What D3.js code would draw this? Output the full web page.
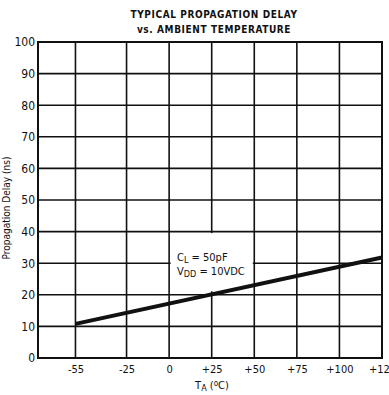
<!DOCTYPE html>
<html>
<head>
<meta charset="utf-8">
<script src="https://cdn.jsdelivr.net/npm/d3@7"></script>
<style>
  html, body { margin: 0; padding: 0; background: #fff; }
  svg { display: block; }
  text { font-family: "Liberation Sans Narrow", "DejaVu Sans Condensed", "Liberation Sans", sans-serif; fill: #111; }
</style>
</head>
<body>
<script>
// Propagation delay vs ambient temperature (CL = 50pF, VDD = 10VDC)
const tempTicks = [-55, -25, 0, 25, 50, 75, 100, 125];
const tempLabels = ["-55", "-25", "0", "+25", "+50", "+75", "+100", "+125"];
const delayTicks = [0, 10, 20, 30, 40, 50, 60, 70, 80, 90, 100];
const curveTemp = [-55, 125];
const curveDelay = [10.8, 31.8];

const W = 389, H = 395;
const svg = d3.select("body").append("svg").attr("width", W).attr("height", H);

const x = d3.scaleLinear().domain([-77, 125]).range([38, 382]);
const y = d3.scaleLinear().domain([0, 100]).range([358, 42]);

// grid
const grid = svg.append("g").attr("stroke", "#111").attr("stroke-width", 1.6);
grid.selectAll("line.v").data(tempTicks.slice(0, -1)).join("line")
  .attr("x1", d => x(d)).attr("x2", d => x(d))
  .attr("y1", y(100)).attr("y2", y(0));
grid.selectAll("line.h").data(delayTicks.slice(1, -1)).join("line")
  .attr("x1", x.range()[0]).attr("x2", x.range()[1])
  .attr("y1", d => y(d)).attr("y2", d => y(d));

// frame
svg.append("rect")
  .attr("x", x.range()[0]).attr("y", y(100))
  .attr("width", x.range()[1] - x.range()[0]).attr("height", y(0) - y(100))
  .attr("fill", "none").attr("stroke", "#111").attr("stroke-width", 2);

// cleared area behind the condition note
svg.append("rect")
  .attr("x", x(0) + 1.5).attr("y", y(40) + 1.5)
  .attr("width", x(50) - x(0) - 3).attr("height", y(20) - y(40) - 5)
  .attr("fill", "#fff");

// delay curve
const pts = curveTemp.map((t, i) => [t, curveDelay[i]]);
svg.append("path")
  .attr("d", d3.line().x(d => x(d[0])).y(d => y(d[1]))(pts))
  .attr("fill", "none").attr("stroke", "#111").attr("stroke-width", 4);

// axes
const yAxis = svg.append("g").attr("transform", `translate(${x.range()[0]},0)`)
  .call(d3.axisLeft(y).tickValues(delayTicks).tickSize(0).tickPadding(3));
yAxis.select(".domain").remove();
yAxis.selectAll("text").attr("font-size", 12).attr("fill", "#111")
  .style("font-family", '"Liberation Sans Narrow", "DejaVu Sans Condensed", sans-serif');

const xAxis = svg.append("g").attr("transform", `translate(0,${y(0)})`)
  .call(d3.axisBottom(x).tickValues(tempTicks).tickFormat((d, i) => tempLabels[i]).tickSize(0).tickPadding(7));
xAxis.select(".domain").remove();
xAxis.selectAll("text").attr("font-size", 11).attr("fill", "#111")
  .style("font-family", '"Liberation Sans Narrow", "DejaVu Sans Condensed", sans-serif');

// titles
const title = svg.append("g").attr("font-weight", "bold").attr("font-size", 10)
  .attr("text-anchor", "middle").attr("letter-spacing", 0.6);
title.append("text").attr("x", 214).attr("y", 18).text("TYPICAL PROPAGATION DELAY");
title.append("text").attr("x", 214).attr("y", 33).text("vs. AMBIENT TEMPERATURE");

const xt = svg.append("text").attr("x", 212).attr("y", 389).attr("text-anchor", "middle").attr("font-size", 11);
xt.append("tspan").text("T");
xt.append("tspan").attr("dy", 2).attr("font-size", 9).text("A");
xt.append("tspan").attr("dy", -2).text(" (");
xt.append("tspan").attr("dy", -3).attr("font-size", 8).text("o");
xt.append("tspan").attr("dy", 3).text("C)");

svg.append("text")
  .attr("transform", `translate(10,208) rotate(-90)`)
  .attr("text-anchor", "middle").attr("font-size", 10)
  .text("Propagation Delay (ns)");

// condition note
const n1 = svg.append("text").attr("x", 177).attr("y", 261).attr("font-size", 11);
n1.append("tspan").text("C");
n1.append("tspan").attr("dy", 2).attr("font-size", 9).text("L");
n1.append("tspan").attr("dy", -2).text(" = 50pF");
const n2 = svg.append("text").attr("x", 177).attr("y", 275).attr("font-size", 11);
n2.append("tspan").text("V");
n2.append("tspan").attr("dy", 2).attr("font-size", 9).text("DD");
n2.append("tspan").attr("dy", -2).text(" = 10VDC");
</script>
</body>
</html>
